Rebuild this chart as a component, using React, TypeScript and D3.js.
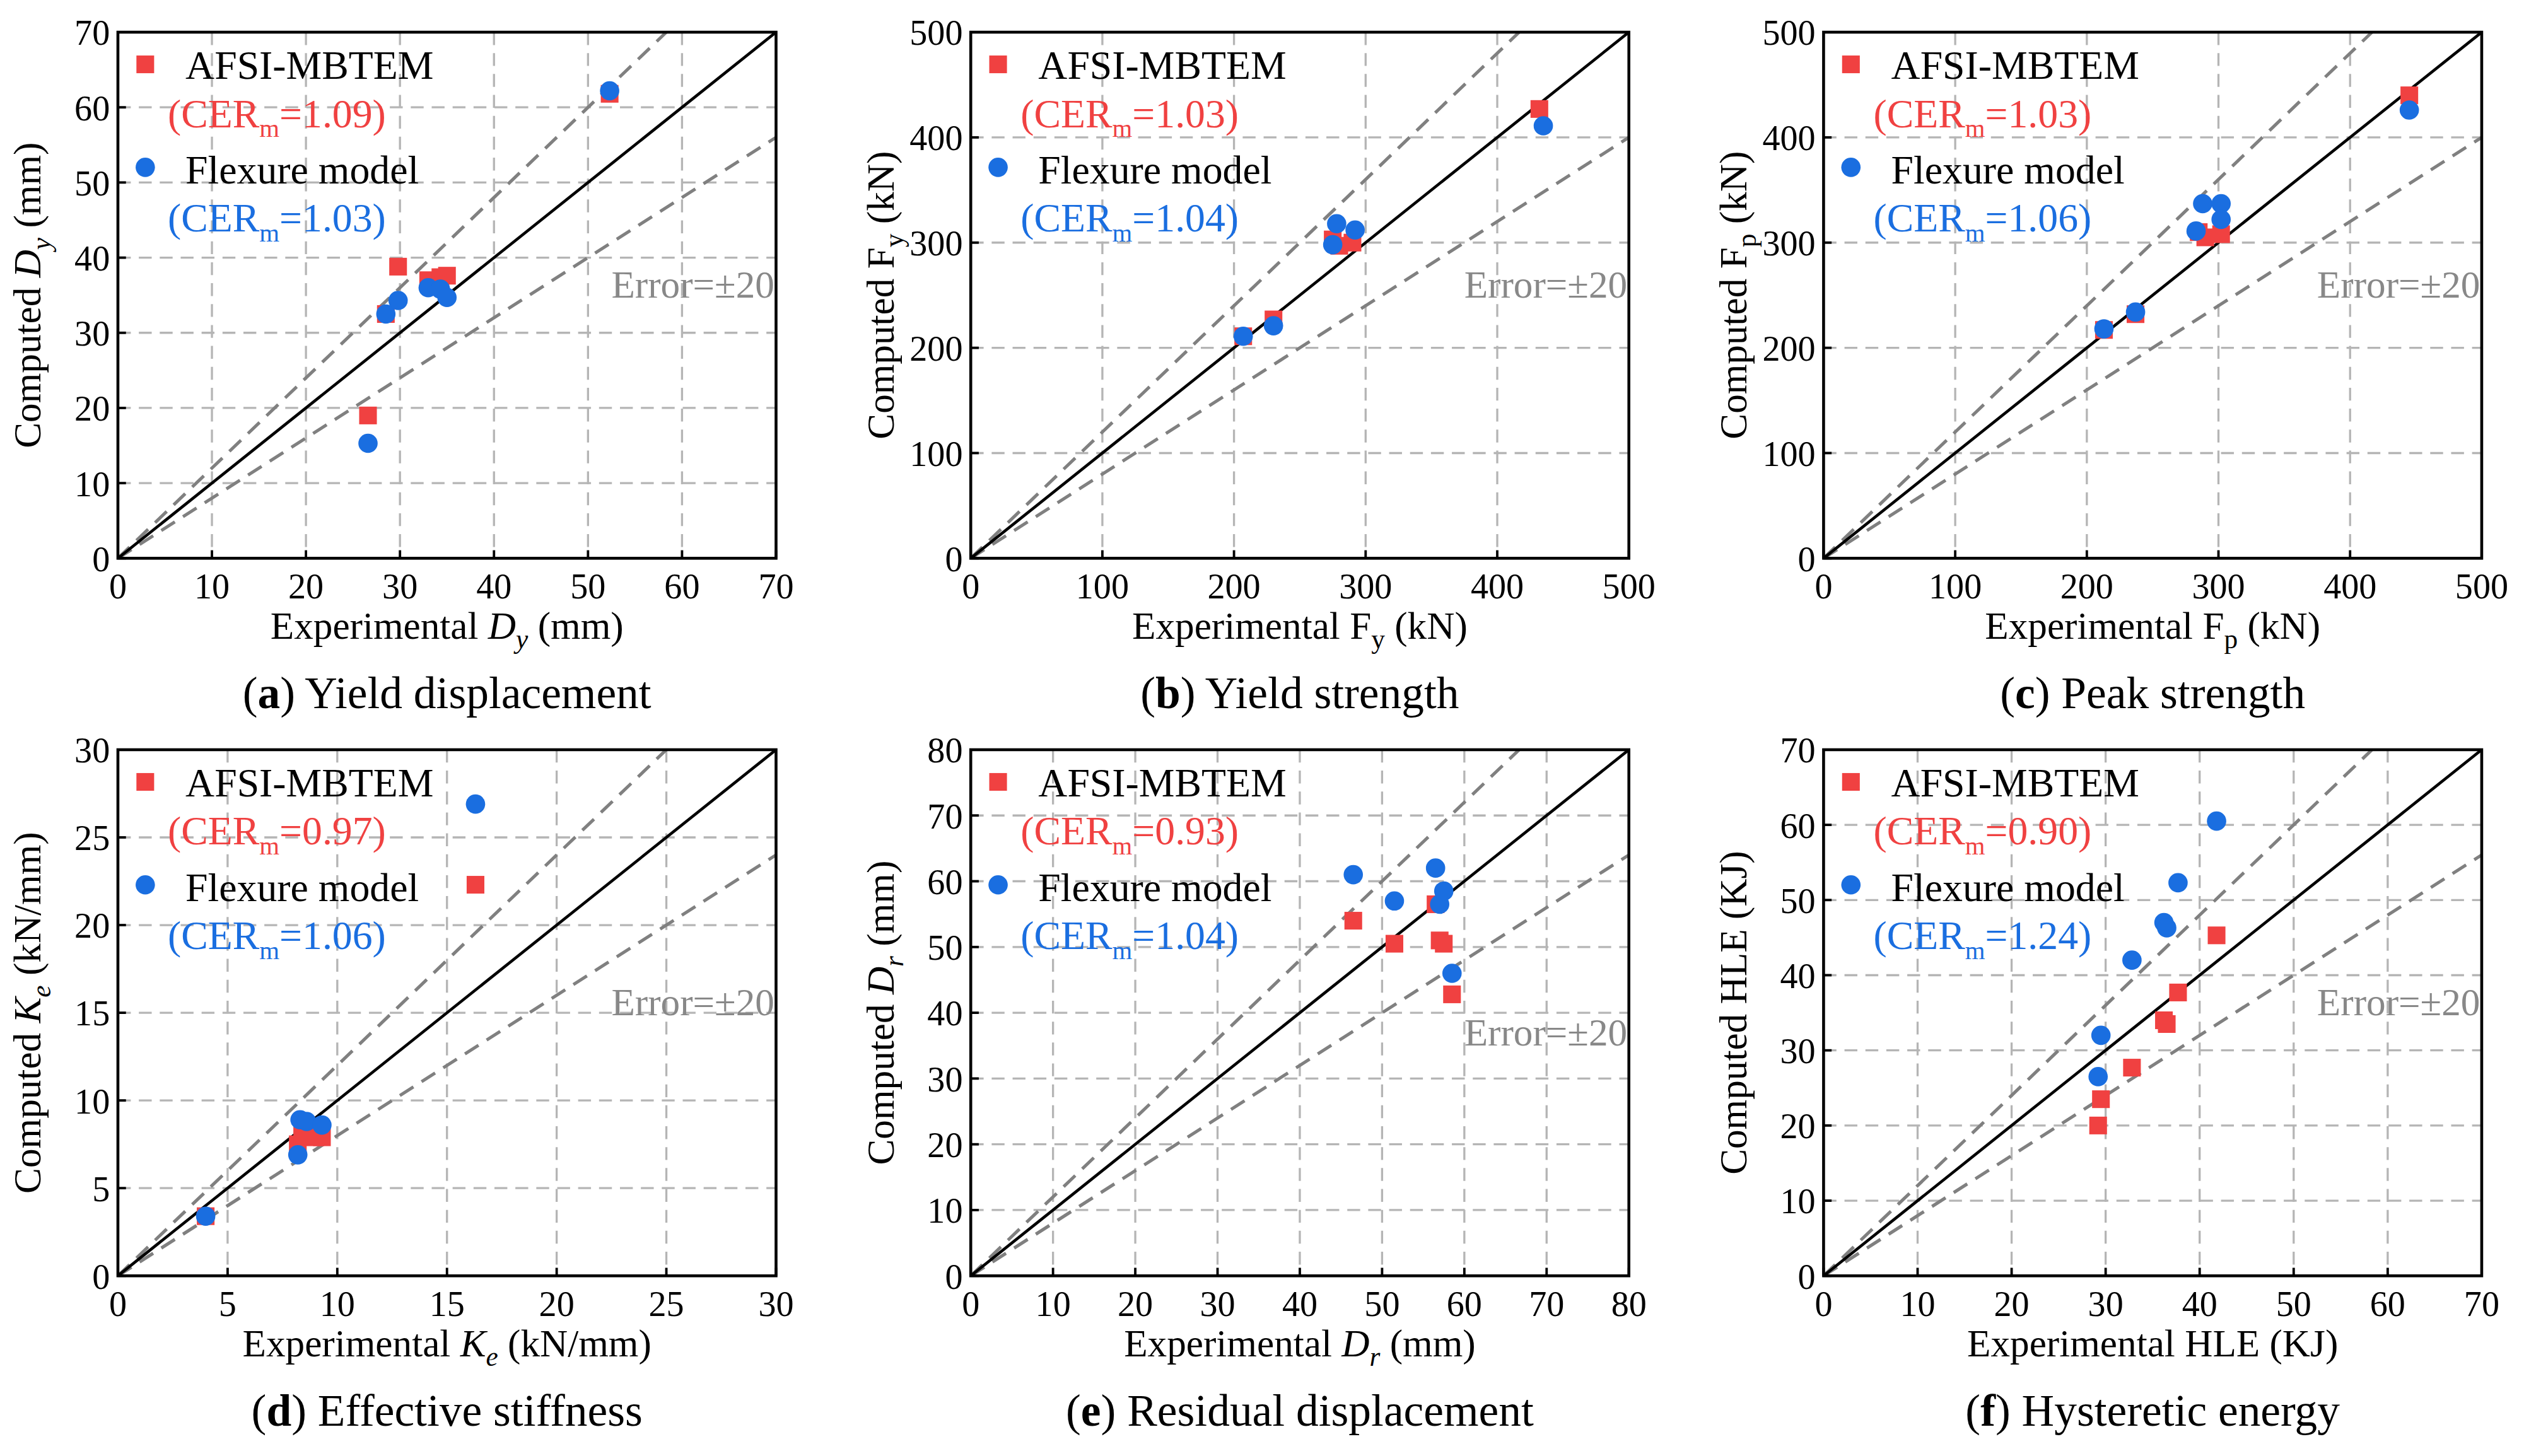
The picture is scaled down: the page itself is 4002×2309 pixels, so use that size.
import * as d3 from "d3";

type Pt = [number, number];

const panelTitles = ["Yield displacement", "Yield strength", "Peak strength", "Effective stiffness", "Residual displacement", "Hysteretic energy"];
const panelLetters = ["a", "b", "c", "d", "e", "f"];
const axisMax = [70, 500, 500, 30, 80, 70];
const tickStep = [10, 100, 100, 5, 10, 10];
const symbolNames = [["D", "y", true], ["F", "y", false], ["F", "p", false], ["K", "e", true], ["D", "r", true], ["HLE", "", false]] as const;
const unitNames = ["mm", "kN", "kN", "kN/mm", "mm", "KJ"];
const cerAfsi = ["1.09", "1.03", "1.03", "0.97", "0.93", "0.90"];
const cerFlex = ["1.03", "1.04", "1.06", "1.06", "1.04", "1.24"];

const afsiPoints: Pt[][] = [
  [[26.6, 19], [28.5, 32.5], [29.8, 38.8], [33, 37], [34.3, 37.4], [35, 37.6], [52.3, 61.8]],
  [[207, 211], [230, 227], [275, 303], [280, 297], [290, 300], [432, 427]],
  [[213, 217], [237, 232], [285, 310], [290, 305], [302, 308], [445, 440]],
  [[4, 3.4], [8.2, 7.5], [8.4, 8], [9, 7.9], [9.3, 7.9], [16.3, 22.3]],
  [[46.5, 54], [51.5, 50.5], [56.5, 56.5], [57, 51], [57.5, 50.5], [58.5, 42.8]],
  [[29.2, 20], [29.5, 23.5], [32.8, 27.7], [36.2, 34], [36.5, 33.5], [37.7, 37.7], [41.8, 45.3]],
];
const flexPoints: Pt[][] = [
  [[26.6, 15.3], [28.5, 32.5], [29.8, 34.3], [33, 36], [34.3, 35.8], [35, 34.7], [52.3, 62.2]],
  [[207, 211], [230, 221], [275, 298], [278, 318], [292, 312], [435, 411]],
  [[213, 218], [237, 234], [283, 311], [288, 337], [302, 337], [302, 322], [445, 426]],
  [[4, 3.4], [8.2, 6.9], [8.3, 8.9], [8.6, 8.8], [9.3, 8.6], [16.3, 26.9]],
  [[46.5, 61], [51.5, 57], [56.5, 62], [57, 56.5], [57.5, 58.5], [58.5, 46]],
  [[29.2, 26.5], [29.5, 32], [32.8, 42], [36.2, 47], [36.5, 46.3], [37.7, 52.3], [41.8, 60.5]],
];
const errorOffset = [165, 165, 165, 165, 184, 165];

const RED = "#f04141";
const BLUE = "#1a6ee0";
const FONT = "'Liberation Serif', 'DejaVu Serif', serif";
const plotLeft = [73, 603, 1133];
const plotTop = [20, 466];
const W = 409;
const H = 327;

function Label({ sym, sub, ital, unit, prefix, x, y, rotate }: any) {
  return (
    <text x={x} y={y} textAnchor="middle" fontSize={24} transform={rotate ? `rotate(-90 ${x} ${y})` : undefined}>
      {prefix}{" "}
      <tspan fontStyle={ital ? "italic" : "normal"}>{sym}</tspan>
      {sub ? <tspan fontStyle={ital ? "italic" : "normal"} fontSize={17} dy={6}>{sub}</tspan> : null}
      <tspan dy={sub ? -6 : 0}>{` (${unit})`}</tspan>
    </text>
  );
}

function Panel({ i }: { i: number }) {
  const left = plotLeft[i % 3];
  const top = plotTop[Math.floor(i / 3)];
  const max = axisMax[i];
  const x = d3.scaleLinear().domain([0, max]).range([0, W]);
  const y = d3.scaleLinear().domain([0, max]).range([H, 0]);
  const ticks = d3.range(0, max + tickStep[i] / 2, tickStep[i]);
  const [sym, sub, ital] = symbolNames[i];
  const line = (k: number) => {
    const xe = Math.min(max, max / k);
    return `M${x(0)},${y(0)}L${x(xe)},${y(xe * k)}`;
  };
  const sq = 11;
  return (
    <g transform={`translate(${left},${top})`}>
      <defs>
        <clipPath id={`clip${i}`}><rect width={W} height={H} /></clipPath>
      </defs>
      {ticks.slice(1, -1).map((t) => (
        <g key={t} stroke="#b5b5b5" strokeDasharray="8,5" strokeWidth={1.3}>
          <line x1={x(t)} x2={x(t)} y1={0} y2={H} />
          <line x1={0} x2={W} y1={y(t)} y2={y(t)} />
        </g>
      ))}
      <g clipPath={`url(#clip${i})`} fill="none">
        <path d={line(1.2)} stroke="#808080" strokeWidth={2} strokeDasharray="10,6" />
        <path d={line(0.8)} stroke="#808080" strokeWidth={2} strokeDasharray="10,6" />
        <path d={line(1)} stroke="#000" strokeWidth={1.8} />
      </g>
      {afsiPoints[i].map((p, j) => (
        <rect key={j} x={x(p[0]) - sq / 2} y={y(p[1]) - sq / 2} width={sq} height={sq} fill={RED} />
      ))}
      {flexPoints[i].map((p, j) => (
        <circle key={j} cx={x(p[0])} cy={y(p[1])} r={6} fill={BLUE} />
      ))}
      <rect width={W} height={H} fill="none" stroke="#000" strokeWidth={1.8} />
      {ticks.map((t) => (
        <g key={t} fontSize={22}>
          <line x1={x(t)} x2={x(t)} y1={H} y2={H - 5} stroke="#000" strokeWidth={1.5} />
          <line x1={0} x2={5} y1={y(t)} y2={y(t)} stroke="#000" strokeWidth={1.5} />
          <text x={x(t)} y={H + 25} textAnchor="middle">{t}</text>
          <text x={-5} y={y(t) + 8} textAnchor="end">{t}</text>
        </g>
      ))}
      <Label prefix="Experimental" sym={sym} sub={sub} ital={ital} unit={unitNames[i]} x={W / 2} y={H + 50} />
      <Label prefix="Computed" sym={sym} sub={sub} ital={ital} unit={unitNames[i]} x={-48} y={H / 2} rotate />
      <rect x={17 - sq / 2} y={20 - sq / 2} width={sq} height={sq} fill={RED} />
      <text x={42} y={29} fontSize={25}>AFSI-MBTEM</text>
      <text x={31} y={59} fontSize={25} fill={RED}>(CER<tspan fontSize={16} dy={6}>m</tspan><tspan dy={-6}>={cerAfsi[i]})</tspan></text>
      <circle cx={17} cy={84} r={6} fill={BLUE} />
      <text x={42} y={94} fontSize={25}>Flexure model</text>
      <text x={31} y={124} fontSize={25} fill={BLUE}>(CER<tspan fontSize={16} dy={6}>m</tspan><tspan dy={-6}>={cerFlex[i]})</tspan></text>
      <text x={W - 1} y={errorOffset[i]} fontSize={24} fill="#888" textAnchor="end">Error=±20</text>
      <text x={W / 2} y={H + 93} fontSize={28} textAnchor="middle">
        (<tspan fontWeight="bold">{panelLetters[i]}</tspan>) {panelTitles[i]}
      </text>
    </g>
  );
}

export default function App() {
  return (
    <svg
      width={4002}
      height={2309}
      viewBox="0 0 1568 905"
      fontFamily={FONT}
      style={{ position: "absolute", left: 0, top: 0, background: "#fff", fontFamily: FONT }}
    >
      <rect width={1568} height={905} fill="#fff" />
      {panelTitles.map((_, i) => <Panel key={i} i={i} />)}
    </svg>
  );
}
